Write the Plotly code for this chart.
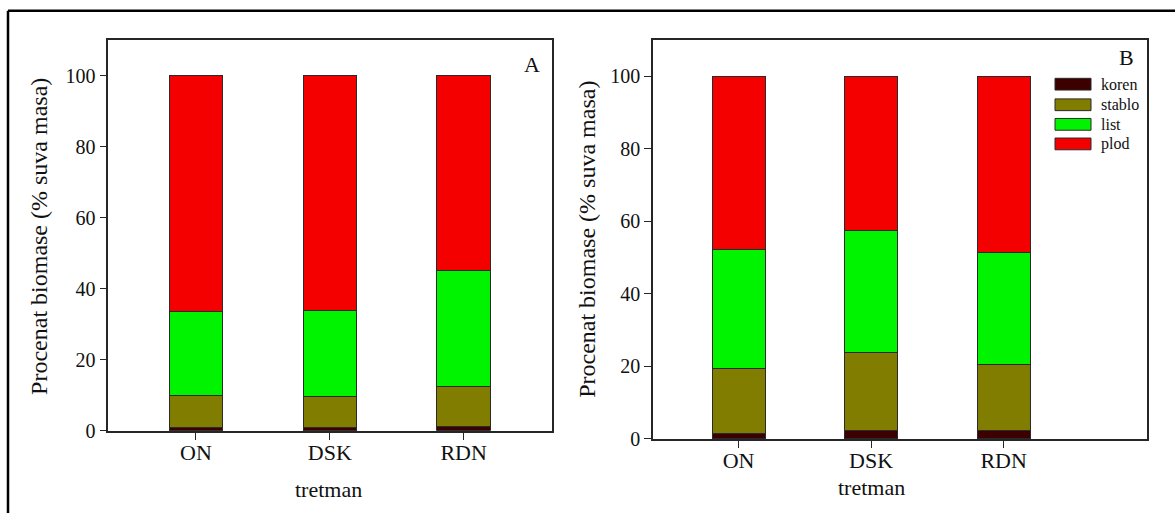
import plotly.graph_objects as go

# Treatments
categories = ["ON", "DSK", "RDN"]

# Panel A: share of dry biomass per plant part (%)
a_koren = [1.0, 0.9, 1.2]
a_stablo = [8.9, 8.8, 11.4]
a_list = [23.7, 24.3, 32.4]
a_plod = [66.4, 66.0, 55.0]

# Panel B: share of dry biomass per plant part (%)
b_koren = [1.6, 2.2, 2.2]
b_stablo = [17.9, 21.7, 18.3]
b_list = [32.6, 33.6, 30.9]
b_plod = [47.9, 42.5, 48.6]

y_ticks = [0, 20, 40, 60, 80, 100]

part_names = ["koren", "stablo", "list", "plod"]
part_colors = ["#3d0000", "#807d00", "#00f400", "#f40000"]

W, H = 1175, 524
FONT = "'Liberation Serif', 'Times New Roman', 'DejaVu Serif', serif"

fig = go.Figure()

panels = [
    ("x", "y", [a_koren, a_stablo, a_list, a_plod]),
    ("x2", "y2", [b_koren, b_stablo, b_list, b_plod]),
]
for xa, ya, series in panels:
    for name, color, vals in zip(part_names, part_colors, series):
        fig.add_trace(go.Bar(
            x=categories, y=vals, name=name, xaxis=xa, yaxis=ya,
            width=0.4, marker=dict(color=color, line=dict(color="#2a2a2a", width=1)),
            showlegend=False,
        ))


def px_x(v):
    return v / W


def px_y(v):
    return 1 - v / H


axis_common = dict(
    showgrid=False, zeroline=False, showline=True, linecolor="#262626",
    linewidth=1.5, mirror=True, ticks="outside", ticklen=7, tickwidth=1.2,
    tickcolor="#262626",
)
xfont = dict(family=FONT, size=22, color="#111")
yfont = dict(family=FONT, size=20, color="#111")

fig.update_layout(
    width=W, height=H, margin=dict(l=0, r=0, t=0, b=0),
    paper_bgcolor="white", plot_bgcolor="white", barmode="stack",
    xaxis=dict(domain=[px_x(108.3), px_x(552)], range=[-0.655, 2.66],
               anchor="y", tickfont=xfont, ticklabelstandoff=-6, **axis_common),
    yaxis=dict(domain=[px_y(440), px_y(41)], range=[0, 110], anchor="x",
               tickvals=y_ticks, tickfont=yfont, **axis_common),
    xaxis2=dict(domain=[px_x(653), px_x(1146.7)], range=[-0.646, 3.08],
                anchor="y2", tickfont=xfont, ticklabelstandoff=-6, **axis_common),
    yaxis2=dict(domain=[px_y(448.3), px_y(40.7)], range=[0, 110], anchor="x2",
                tickvals=y_ticks, tickfont=yfont, **axis_common),
)

ann_font = dict(family=FONT, size=22, color="#111")
ytitle = "Procenat biomase (% suva masa)"
title_font = dict(family=FONT, size=24, color="#111")
annotations = [
    dict(text=ytitle, x=px_x(39), y=px_y(242), textangle=-90, font=title_font),
    dict(text=ytitle, x=px_x(587), y=px_y(245), textangle=-90, font=title_font),
    dict(text="tretman", x=px_x(328), y=px_y(500), font=ann_font),
    dict(text="tretman", x=px_x(871), y=px_y(498), font=ann_font),
    dict(text="A", x=px_x(532), y=px_y(66), font=ann_font),
    dict(text="B", x=px_x(1126), y=px_y(59), font=ann_font),
]

# Legend for panel B
shapes = []
legend_rows = [86, 107, 127, 147]
for name, color, yc in zip(part_names, part_colors, legend_rows):
    shapes.append(dict(type="rect", xref="paper", yref="paper",
                       x0=px_x(1055), x1=px_x(1091), y0=px_y(yc + 6), y1=px_y(yc - 6),
                       fillcolor=color, line=dict(color="#2a2a2a", width=1)))
    annotations.append(dict(text=name, x=px_x(1099), y=px_y(yc), xanchor="left",
                            font=dict(family=FONT, size=16, color="#111")))

# Outer figure frame (top and left edges)
shapes.append(dict(type="line", xref="paper", yref="paper", x0=px_x(8), x1=1,
                   y0=px_y(11), y1=px_y(11), line=dict(color="black", width=2.5)))
shapes.append(dict(type="line", xref="paper", yref="paper", x0=px_x(8), x1=px_x(8),
                   y0=0, y1=px_y(11), line=dict(color="black", width=2.5)))

for a in annotations:
    a.setdefault("xref", "paper")
    a.setdefault("yref", "paper")
    a.setdefault("showarrow", False)
    a.setdefault("xanchor", "center")
    a.setdefault("yanchor", "middle")

fig.update_layout(annotations=annotations, shapes=shapes)

fig.write_html("out.html")
